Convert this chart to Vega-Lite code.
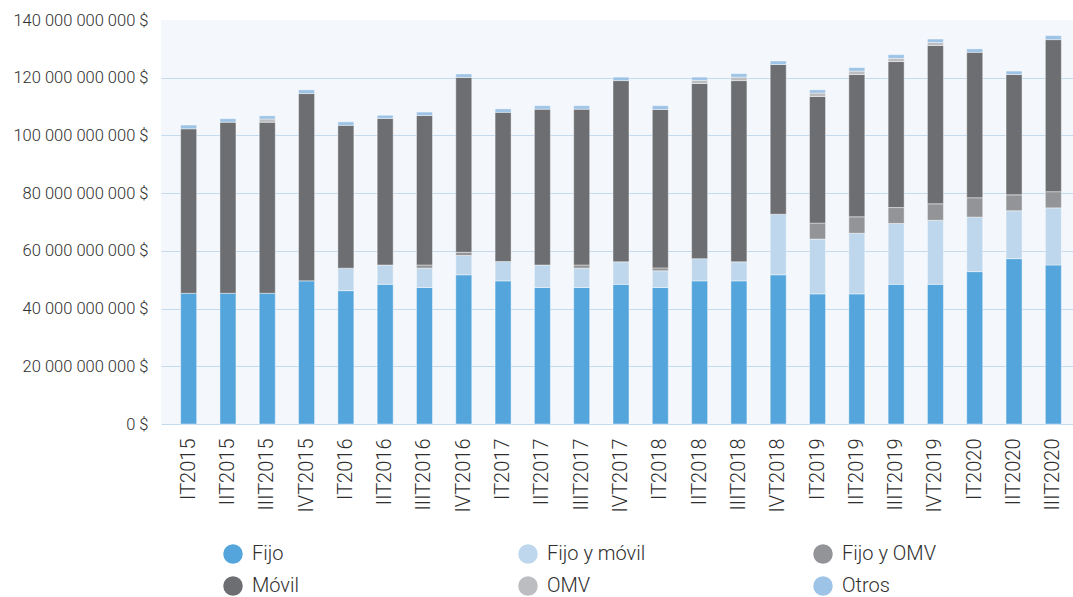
{
  "$schema": "https://vega.github.io/schema/vega-lite/v6.json",
  "width": 912,
  "height": 404,
  "autosize": {"type": "none"},
  "padding": {"left": 161, "top": 20, "right": 0, "bottom": 173},
  "background": "white",
  "config": {
    "locale": {"number": {"decimal": ",", "thousands": " ", "grouping": [3], "currency": ["", " $"]}},
    "view": {"fill": "#f4f8fc", "stroke": null},
    "font": "Roboto, sans-serif",
    "axis": {"labelFont": "Roboto, sans-serif", "labelFontWeight": 300, "labelColor": "#2e2e2e", "titleFontSize": 0},
    "legend": {"labelFont": "Roboto, sans-serif", "labelFontWeight": 300}
  },
  "data": {"values": [
    {"t": "IT2015", "s": "Fijo", "v": 45300000000}, {"t": "IT2015", "s": "Móvil", "v": 57000000000}, {"t": "IT2015", "s": "Otros", "v": 1300000000},
    {"t": "IIT2015", "s": "Fijo", "v": 45300000000}, {"t": "IIT2015", "s": "Móvil", "v": 59300000000}, {"t": "IIT2015", "s": "Otros", "v": 1200000000},
    {"t": "IIIT2015", "s": "Fijo", "v": 45300000000}, {"t": "IIIT2015", "s": "Móvil", "v": 59300000000}, {"t": "IIIT2015", "s": "OMV", "v": 1100000000}, {"t": "IIIT2015", "s": "Otros", "v": 1100000000},
    {"t": "IVT2015", "s": "Fijo", "v": 49600000000}, {"t": "IVT2015", "s": "Móvil", "v": 64900000000}, {"t": "IVT2015", "s": "Otros", "v": 1300000000},
    {"t": "IT2016", "s": "Fijo", "v": 46200000000}, {"t": "IT2016", "s": "Fijo y móvil", "v": 7800000000}, {"t": "IT2016", "s": "Móvil", "v": 49500000000}, {"t": "IT2016", "s": "Otros", "v": 1200000000},
    {"t": "IIT2016", "s": "Fijo", "v": 48400000000}, {"t": "IIT2016", "s": "Fijo y móvil", "v": 6700000000}, {"t": "IIT2016", "s": "Móvil", "v": 50800000000}, {"t": "IIT2016", "s": "Otros", "v": 1100000000},
    {"t": "IIIT2016", "s": "Fijo", "v": 47300000000}, {"t": "IIIT2016", "s": "Fijo y móvil", "v": 6700000000}, {"t": "IIIT2016", "s": "Fijo y OMV", "v": 1100000000}, {"t": "IIIT2016", "s": "Móvil", "v": 51800000000}, {"t": "IIIT2016", "s": "Otros", "v": 1200000000},
    {"t": "IVT2016", "s": "Fijo", "v": 51700000000}, {"t": "IVT2016", "s": "Fijo y móvil", "v": 6700000000}, {"t": "IVT2016", "s": "Fijo y OMV", "v": 1100000000}, {"t": "IVT2016", "s": "Móvil", "v": 60600000000}, {"t": "IVT2016", "s": "Otros", "v": 1200000000},
    {"t": "IT2017", "s": "Fijo", "v": 49600000000}, {"t": "IT2017", "s": "Fijo y móvil", "v": 6700000000}, {"t": "IT2017", "s": "Móvil", "v": 51700000000}, {"t": "IT2017", "s": "Otros", "v": 1200000000},
    {"t": "IIT2017", "s": "Fijo", "v": 47300000000}, {"t": "IIT2017", "s": "Fijo y móvil", "v": 7800000000}, {"t": "IIT2017", "s": "Móvil", "v": 54000000000}, {"t": "IIT2017", "s": "Otros", "v": 1200000000},
    {"t": "IIIT2017", "s": "Fijo", "v": 47300000000}, {"t": "IIIT2017", "s": "Fijo y móvil", "v": 6700000000}, {"t": "IIIT2017", "s": "Fijo y OMV", "v": 1100000000}, {"t": "IIIT2017", "s": "Móvil", "v": 54000000000}, {"t": "IIIT2017", "s": "Otros", "v": 1200000000},
    {"t": "IVT2017", "s": "Fijo", "v": 48400000000}, {"t": "IVT2017", "s": "Fijo y móvil", "v": 7800000000}, {"t": "IVT2017", "s": "Móvil", "v": 62800000000}, {"t": "IVT2017", "s": "Otros", "v": 1200000000},
    {"t": "IT2018", "s": "Fijo", "v": 47300000000}, {"t": "IT2018", "s": "Fijo y móvil", "v": 5800000000}, {"t": "IT2018", "s": "Fijo y OMV", "v": 1000000000}, {"t": "IT2018", "s": "Móvil", "v": 54900000000}, {"t": "IT2018", "s": "Otros", "v": 1300000000},
    {"t": "IIT2018", "s": "Fijo", "v": 49600000000}, {"t": "IIT2018", "s": "Fijo y móvil", "v": 7700000000}, {"t": "IIT2018", "s": "Móvil", "v": 60700000000}, {"t": "IIT2018", "s": "OMV", "v": 1100000000}, {"t": "IIT2018", "s": "Otros", "v": 1100000000},
    {"t": "IIIT2018", "s": "Fijo", "v": 49600000000}, {"t": "IIIT2018", "s": "Fijo y móvil", "v": 6600000000}, {"t": "IIIT2018", "s": "Móvil", "v": 62800000000}, {"t": "IIIT2018", "s": "OMV", "v": 1200000000}, {"t": "IIIT2018", "s": "Otros", "v": 1200000000},
    {"t": "IVT2018", "s": "Fijo", "v": 51700000000}, {"t": "IVT2018", "s": "Fijo y móvil", "v": 21000000000}, {"t": "IVT2018", "s": "Móvil", "v": 51900000000}, {"t": "IVT2018", "s": "Otros", "v": 1200000000},
    {"t": "IT2019", "s": "Fijo", "v": 45100000000}, {"t": "IT2019", "s": "Fijo y móvil", "v": 19000000000}, {"t": "IT2019", "s": "Fijo y OMV", "v": 5500000000}, {"t": "IT2019", "s": "Móvil", "v": 43900000000}, {"t": "IT2019", "s": "OMV", "v": 1200000000}, {"t": "IT2019", "s": "Otros", "v": 1100000000},
    {"t": "IIT2019", "s": "Fijo", "v": 45100000000}, {"t": "IIT2019", "s": "Fijo y móvil", "v": 21000000000}, {"t": "IIT2019", "s": "Fijo y OMV", "v": 5700000000}, {"t": "IIT2019", "s": "Móvil", "v": 49300000000}, {"t": "IIT2019", "s": "OMV", "v": 1200000000}, {"t": "IIT2019", "s": "Otros", "v": 1200000000},
    {"t": "IIIT2019", "s": "Fijo", "v": 48400000000}, {"t": "IIIT2019", "s": "Fijo y móvil", "v": 21100000000}, {"t": "IIIT2019", "s": "Fijo y OMV", "v": 5500000000}, {"t": "IIIT2019", "s": "Móvil", "v": 50600000000}, {"t": "IIIT2019", "s": "OMV", "v": 1100000000}, {"t": "IIIT2019", "s": "Otros", "v": 1300000000},
    {"t": "IVT2019", "s": "Fijo", "v": 48400000000}, {"t": "IVT2019", "s": "Fijo y móvil", "v": 22200000000}, {"t": "IVT2019", "s": "Fijo y OMV", "v": 5700000000}, {"t": "IVT2019", "s": "Móvil", "v": 54900000000}, {"t": "IVT2019", "s": "OMV", "v": 1000000000}, {"t": "IVT2019", "s": "Otros", "v": 1200000000},
    {"t": "IT2020", "s": "Fijo", "v": 52800000000}, {"t": "IT2020", "s": "Fijo y móvil", "v": 18900000000}, {"t": "IT2020", "s": "Fijo y OMV", "v": 6700000000}, {"t": "IT2020", "s": "Móvil", "v": 50400000000}, {"t": "IT2020", "s": "Otros", "v": 1200000000},
    {"t": "IIT2020", "s": "Fijo", "v": 57300000000}, {"t": "IIT2020", "s": "Fijo y móvil", "v": 16600000000}, {"t": "IIT2020", "s": "Fijo y OMV", "v": 5500000000}, {"t": "IIT2020", "s": "Móvil", "v": 41700000000}, {"t": "IIT2020", "s": "Otros", "v": 1200000000},
    {"t": "IIIT2020", "s": "Fijo", "v": 55100000000}, {"t": "IIIT2020", "s": "Fijo y móvil", "v": 19800000000}, {"t": "IIIT2020", "s": "Fijo y OMV", "v": 5600000000}, {"t": "IIIT2020", "s": "Móvil", "v": 52700000000}, {"t": "IIIT2020", "s": "Otros", "v": 1400000000}
  ]},
  "transform": [
    {"calculate": "indexof(['Fijo', 'Fijo y móvil', 'Fijo y OMV', 'Móvil', 'OMV', 'Otros'], datum.s)", "as": "o"}
  ],
  "mark": {"type": "bar", "stroke": "white", "strokeWidth": 0.6, "strokeOpacity": 0.7},
  "encoding": {
    "x": {
      "field": "t", "type": "nominal", "title": null,
      "sort": ["IT2015","IIT2015","IIIT2015","IVT2015","IT2016","IIT2016","IIIT2016","IVT2016","IT2017","IIT2017","IIIT2017","IVT2017","IT2018","IIT2018","IIIT2018","IVT2018","IT2019","IIT2019","IIIT2019","IVT2019","IT2020","IIT2020","IIIT2020"],
      "scale": {"paddingInner": 0.593, "paddingOuter": 0.5, "range": [0, 920]},
      "axis": {"labelAngle": -90, "labelPadding": 14, "ticks": false, "domain": false, "labelFontSize": 20}
    },
    "y": {
      "field": "v", "type": "quantitative", "title": null, "stack": "zero",
      "scale": {"domain": [0, 140000000000], "nice": false},
      "axis": {"values": [0, 20000000000, 40000000000, 60000000000, 80000000000, 100000000000, 120000000000, 140000000000], "format": "$,.0f", "ticks": false, "domain": false, "labelPadding": 13, "gridColor": {"condition": {"test": "datum.value >= 140000000000", "value": "transparent"}, "value": "#c4daef"}, "gridWidth": 1.2, "labelFontSize": 16.5}
    },
    "order": {"field": "o", "type": "quantitative", "sort": "ascending"},
    "color": {
      "field": "s", "type": "nominal", "title": null,
      "scale": {"domain": ["Fijo", "Fijo y móvil", "Fijo y OMV", "Móvil", "OMV", "Otros"], "range": ["#54a5dc", "#bfd7ec", "#939497", "#6d6e71", "#bcbdc0", "#9dc3e6"]},
      "legend": {"orient": "none", "legendX": 62, "legendY": 524, "direction": "horizontal", "columns": 3, "gridAlign": "all", "columnPadding": 167, "rowPadding": 12, "symbolType": "circle", "symbolSize": 380, "symbolStrokeWidth": 0, "symbolOpacity": 1, "labelFontSize": 20, "labelColor": "#2e2e2e", "labelOffset": 9, "padding": 0}
    }
  }
}
